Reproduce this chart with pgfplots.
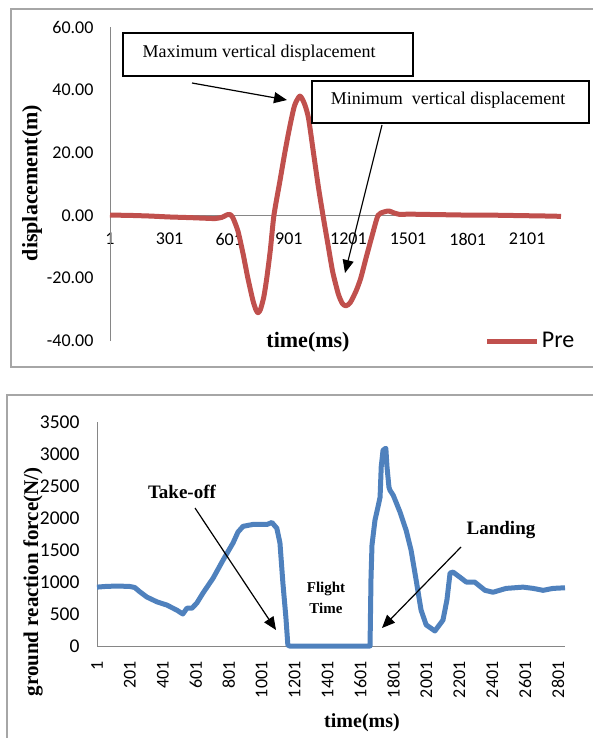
\documentclass[border=0pt]{standalone}
\usepackage{fontspec}
\setmainfont{Liberation Serif}
\newfontfamily\calib{Carlito}
\usepackage{pgfplots}
\pgfplotsset{compat=1.18}
\usetikzlibrary{arrows.meta}
\definecolor{exred}{HTML}{C0504D}
\definecolor{exblue}{HTML}{4F81BD}
\definecolor{axgray}{HTML}{868686}
\definecolor{framegray}{HTML}{A6A6A6}
\begin{document}
\begin{tikzpicture}
\path[use as bounding box] (0pt,0pt) rectangle (593pt,-738pt);
% outer frames
\draw[framegray, line width=1.5pt] (11pt,-9pt) rectangle (620pt,-367pt);
\draw[framegray, line width=1.5pt] (7pt,-395pt) rectangle (620pt,-770pt);

% ---------- top: displacement ----------
\begin{axis}[
    at={(110pt,-341pt)}, anchor=south west,
    scale only axis, width=451pt, height=314pt,
    xmin=1, xmax=2271, ymin=-40, ymax=60,
    axis x line=middle, axis y line=left,
    axis line style={draw=none},
    hide obscured x ticks=false, hide obscured y ticks=false,
    clip=false,
    xtick={1,301,601,901,1201,1501,1801,2101},
    xticklabels={1,301,601,901,1201,1501,1801,2101},
    ytick={-40,-20,0,20,40,60},
    yticklabels={-40.00,-20.00,0.00,20.00,40.00,60.00},
    major tick length=0pt,
    ticklabel style={font=\calib\fontsize{18}{20}\selectfont},
    xticklabel style={anchor=north, yshift=-14pt},
    yticklabel style={anchor=east, xshift=-13pt},
    legend style={at={(0.831,0.0)}, anchor=west, draw=none, fill=none,
        inner sep=0pt, font=\calib\fontsize{24}{28}\selectfont},
    legend image code/.code={\draw[#1] (0pt,0pt) -- (50pt,0pt);},
]
\draw[axgray, line width=1pt] (axis cs:1,-40) -- (axis cs:1,60);
\draw[axgray, line width=1pt] (axis cs:1,0) -- (axis cs:2271,0);
\addplot[exred, line width=5pt, smooth, tension=0.4, line join=round] coordinates {
(1,0.1) (100,0.0) (200,-0.2) (300,-0.5) (400,-0.7) (480,-0.9) (530,-1.0)
(565,-0.6) (590,0.2) (605,0.3) (620,-0.8) (645,-5) (670,-12) (695,-20)
(720,-27) (735,-30) (746,-31) (758,-30) (775,-26) (790,-20) (808,-11)
(826,0) (855,10.5) (881,20) (905,28) (930,35) (957,38) (980,35.5)
(1000,31) (1025,20) (1050,9) (1073,0) (1100,-10) (1122,-18) (1150,-25)
(1170,-28) (1188,-28.8) (1210,-27.8) (1240,-24) (1263,-20) (1290,-13.5)
(1320,-6.5) (1350,0) (1380,1.1) (1405,1.4) (1430,0.8) (1460,0.3)
(1500,0.4) (1600,0.3) (1700,0.2) (1800,0.1) (1900,0.1) (2000,0.0)
(2100,-0.1) (2200,-0.2) (2271,-0.3)
};
\addlegendentry{Pre}
\end{axis}

% ---------- bottom: ground reaction force ----------
\begin{axis}[
    at={(97pt,-646pt)}, anchor=south west,
    scale only axis, width=468pt, height=224pt,
    xmin=1, xmax=2843, ymin=0, ymax=3500,
    axis line style={draw=none},
    clip=false,
    xtick={1,201,401,601,801,1001,1201,1401,1601,1801,2001,2201,2401,2601,2801},
    xticklabels={1,201,401,601,801,1001,1201,1401,1601,1801,2001,2201,2401,2601,2801},
    ytick={0,500,1000,1500,2000,2500,3000,3500},
    yticklabels={0,500,1000,1500,2000,2500,3000,3500},
    major tick length=0pt,
    xticklabel style={font=\calib\fontsize{18}{20}\selectfont, yshift=-12pt, rotate=90, anchor=east},
    yticklabel style={font=\calib\fontsize{19.5}{21}\selectfont, anchor=east, xshift=-14pt},
]
\draw[axgray, line width=1pt] (axis cs:1,0) -- (axis cs:1,3500);
\draw[axgray, line width=1pt] (axis cs:1,0) -- (axis cs:2843,0);
\addplot[exblue, line width=5pt, line join=round] coordinates {
(1,920) (50,930) (100,935) (150,935) (200,930) (230,915) (262,845)
(304,765) (365,690) (425,640) (486,560) (522,500) (547,590) (577,590)
(607,670) (644,825) (706,1060) (766,1340) (827,1610) (857,1780)
(888,1870) (949,1900) (1034,1900) (1063,1930) (1093,1840) (1112,1610)
(1130,980) (1148,450) (1160,15) (1170,0) (1400,0) (1659,0) (1665,1075)
(1671,1580) (1689,1965) (1707,2170) (1720,2325) (1727,2800) (1738,3060)
(1755,3090) (1762,2800) (1774,2480) (1781,2430) (1800,2355) (1840,2100)
(1878,1810) (1908,1500) (1939,1030) (1969,560) (2000,330) (2053,235)
(2102,405) (2126,720) (2145,1140) (2163,1155) (2205,1075) (2243,1000)
(2294,1000) (2357,870) (2406,840) (2485,900) (2588,920) (2650,900)
(2710,870) (2770,900) (2843,910)
};
\end{axis}

% ---------- labels and annotations ----------
\node[rotate=90, font=\bfseries\fontsize{22}{24}\selectfont] at (32pt,-183pt) {displacement(m)};
\node[font=\bfseries\fontsize{22}{24}\selectfont] at (308pt,-342pt) {time(ms)};
\node[rotate=90, font=\bfseries\fontsize{21}{23}\selectfont] at (33pt,-582pt) {ground reaction force(N/)};
\node[font=\bfseries\fontsize{20}{22}\selectfont] at (362pt,-723pt) {time(ms)};

\draw[black, line width=1.5pt, fill=white] (123pt,-33pt) rectangle (413pt,-76pt);
\node[font=\fontsize{18}{20}\selectfont] at (259pt,-53pt) {Maximum vertical displacement};
\draw[black, line width=1.5pt, fill=white] (312pt,-81pt) rectangle (589pt,-123pt);
\node[font=\fontsize{18}{20}\selectfont] at (448pt,-100pt) {Minimum\ \ vertical displacement};

\draw[line width=1.2pt, -{Triangle[length=13pt,width=11pt]}] (192pt,-83pt) -- (287pt,-100pt);
\draw[line width=1.2pt, -{Triangle[length=13pt,width=11pt]}] (382pt,-125pt) -- (345pt,-273pt);

\node[font=\bfseries\fontsize{19}{21}\selectfont] at (182pt,-492pt) {Take-off};
\node[font=\bfseries\fontsize{19}{21}\selectfont] at (501pt,-530pt) {Landing};
\node[font=\bfseries\fontsize{15}{17}\selectfont] at (326pt,-589pt) {Flight};
\node[font=\bfseries\fontsize{15}{17}\selectfont] at (326pt,-608pt) {Time};
\draw[line width=1.2pt, -{Triangle[length=13pt,width=11pt]}] (195pt,-508pt) -- (276pt,-630pt);
\draw[line width=1.2pt, -{Triangle[length=13pt,width=11pt]}] (461pt,-547pt) -- (382pt,-628pt);
\end{tikzpicture}
\end{document}
